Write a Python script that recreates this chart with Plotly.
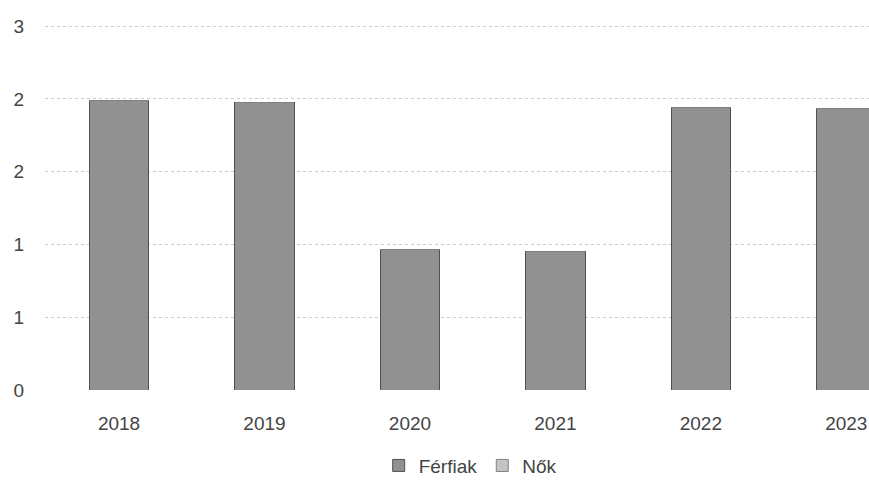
import plotly.graph_objects as go

years = ["2018", "2019", "2020", "2021", "2022", "2023"]
ferfiak = [2.39, 2.375, 1.16, 1.14, 2.33, 2.32]
nok = [0, 0, 0, 0, 0, 0]
tick_vals = [0, 0.6, 1.2, 1.8, 2.4, 3.0]
tick_text = ["0", "1", "1", "2", "2", "3"]

fig = go.Figure()
fig.add_trace(go.Bar(x=years, y=ferfiak, name="Férfiak", width=0.41,
                     marker=dict(color="#919191", line=dict(color="#505050", width=1))))
fig.add_trace(go.Bar(x=years, y=nok, name="Nők", width=0.41,
                     marker=dict(color="#c4c4c4", line=dict(color="#808080", width=1))))

fig.update_layout(
    width=869, height=489,
    barmode="stack",
    paper_bgcolor="white", plot_bgcolor="white",
    margin=dict(l=45, r=0, t=25, b=99),
    font=dict(family="Liberation Sans", size=19, color="#444444"),
    showlegend=True,
    legend=dict(orientation="h", x=0.516, xanchor="center", y=-0.155, yanchor="top",
                font=dict(size=19, color="#444444"), traceorder="normal",
                itemwidth=30),
    xaxis=dict(type="category", range=[-0.509, 5.156], showgrid=False, showline=False,
               ticks="", ticklabelstandoff=20, tickfont=dict(size=19, color="#444444")),
    yaxis=dict(range=[0, 3.01], tickvals=tick_vals, ticktext=tick_text,
               showgrid=True, gridcolor="#cccccc", griddash="dot", gridwidth=1,
               zeroline=False, showline=False, ticks="", ticklabelstandoff=20,
               tickfont=dict(size=19, color="#444444")),
)

fig.write_html("out.html", config={"displayModeBar": False},
               post_script="document.body.style.margin='0';document.body.style.overflow='hidden';")
